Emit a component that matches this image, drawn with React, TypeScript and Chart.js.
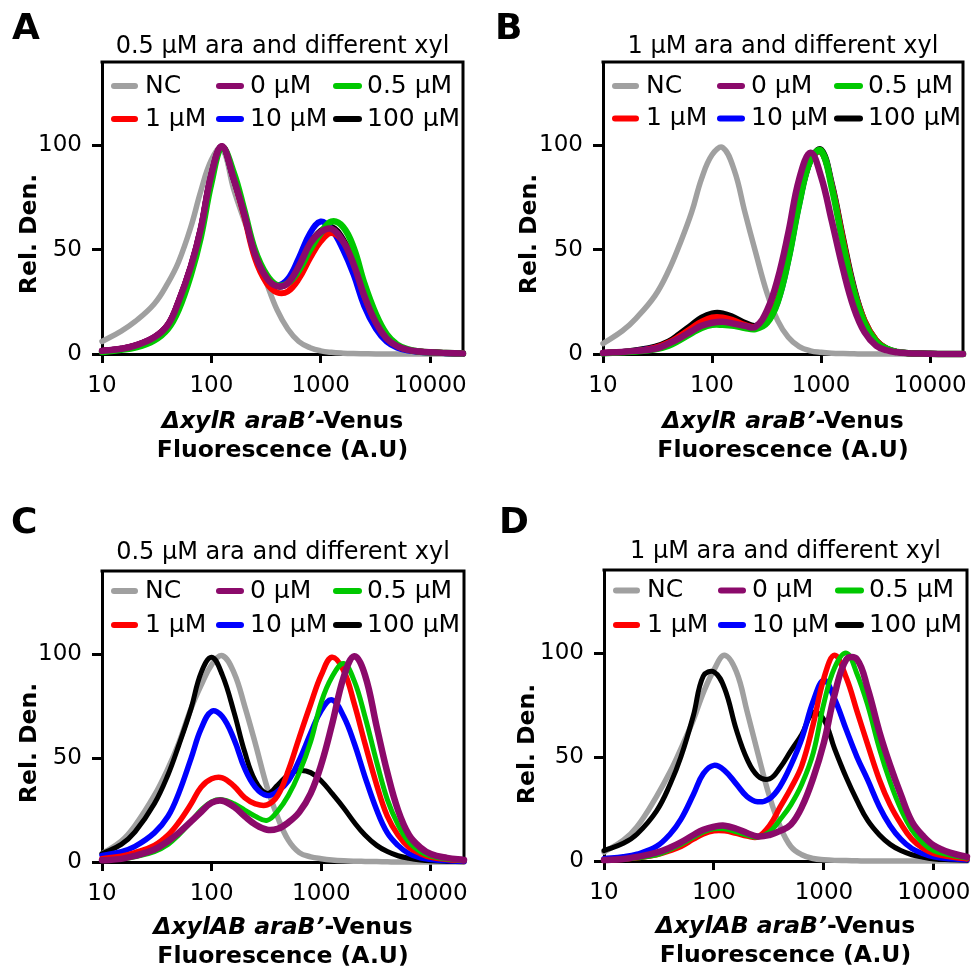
import React, { useEffect, useRef } from "react";
import { Chart, registerables } from "chart.js";

Chart.register(...registerables);

// ---------- data ----------
const xValues = [10, 15, 20, 30, 40, 50, 65, 80, 100, 125, 160, 200, 250, 320, 400, 500, 630, 800, 1000, 1250, 1600, 2000, 2500, 3200, 4000, 5000, 6300, 8000, 10000, 14000, 20000];
const xTickValues = [10, 100, 1000, 10000];
const yTickValues = [0, 50, 100];
const seriesLabels = ["NC", "0 µM", "0.5 µM", "1 µM", "10 µM", "100 µM"];
const panelLetters = ["A", "B", "C", "D"];
const panelTitles = [
  "0.5 µM ara and different xyl",
  "1 µM ara and different xyl",
  "0.5 µM ara and different xyl",
  "1 µM ara and different xyl",
];
const xTitleItalic = ["ΔxylR araB’", "ΔxylR araB’", "ΔxylAB araB’", "ΔxylAB araB’"];
const xTitleRest = "-Venus";
const xTitleLine2 = "Fluorescence (A.U)";
const yTitle = "Rel. Den.";

// Panel A: ΔxylR, 0.5 µM ara
const aNC = [6, 11, 15.5, 24, 34, 44, 61, 78, 93, 99, 79, 64, 50, 34, 21, 12, 6, 3, 1.5, 0.8, 0.4, 0.2, 0.1, 0, 0, 0, 0, 0, 0, 0, 0];
const a0 = [1.5, 2.5, 4, 8, 14, 25, 42, 60, 86, 99.6, 84, 67, 48, 36.5, 32.5, 34, 42, 53, 58.5, 60, 54, 43, 28, 15, 7.5, 3.8, 2, 1.2, 0.8, 0.5, 0.3];
const a05 = [1, 2, 3, 6.5, 12, 21, 38, 56, 82, 99, 87, 69, 50, 38, 33, 34, 40, 50, 58, 63.5, 61, 51, 34, 19, 9.5, 4.5, 2.2, 1.2, 0.8, 0.5, 0.3];
const a1 = [1.5, 2.5, 4, 8, 14, 25, 42, 60, 86, 99.5, 84, 66, 46, 34, 29.5, 30, 36, 46, 54, 58, 54, 44, 28, 15, 7.5, 3.8, 2, 1.2, 0.8, 0.5, 0.3];
const a10 = [1.5, 2.5, 4, 8, 14, 25, 42, 60, 86, 99.5, 84, 67, 48, 37, 33, 36, 46, 58, 63.5, 60, 50, 38, 23, 12, 6, 3, 1.6, 1, 0.7, 0.4, 0.2];
const a100 = [1.5, 2.5, 4, 8, 14, 25, 42, 60, 86, 99.5, 84, 67, 48, 37, 32.5, 34, 42, 53, 59, 61, 55, 44, 28, 15, 7.5, 3.8, 2, 1.2, 0.8, 0.5, 0.3];

// Panel B: ΔxylR, 1 µM ara
const bNC = [5, 11, 17, 28, 40, 52, 68, 84, 95.5, 99, 88, 68, 49, 29, 16, 8, 3.5, 1.5, 0.8, 0.4, 0.2, 0.1, 0, 0, 0, 0, 0, 0, 0, 0, 0];
const b0 = [0.5, 1, 1.5, 2.5, 5, 7.5, 11, 13.5, 15, 15.5, 14.5, 13.5, 13, 21, 36, 58, 84, 96.5, 85, 64, 40, 22, 10.5, 4, 1.8, 0.8, 0.4, 0.2, 0.1, 0, 0];
const b05 = [0.3, 0.8, 1.2, 2.2, 4, 6.5, 10, 12.5, 14, 14, 13.5, 12.5, 12, 15, 25, 45, 72, 93, 97.5, 80, 52, 30, 15, 6, 2.5, 1, 0.4, 0.2, 0.1, 0, 0];
const b1 = [0.5, 1, 1.5, 3, 5.5, 8.5, 12.5, 15.5, 17.5, 17.5, 16, 14, 13, 16, 26, 46, 73, 93, 97, 81, 54, 31, 16, 6.5, 2.6, 1, 0.4, 0.2, 0.1, 0, 0];
const b10 = [0.5, 1, 1.5, 3, 5, 8, 12, 15, 16.5, 16.5, 15, 13.5, 12.5, 15.5, 25, 45, 72, 93, 97, 81, 53, 31, 15.5, 6, 2.5, 1, 0.4, 0.2, 0.1, 0, 0];
const b100 = [0.5, 1, 1.8, 3.5, 6, 9.5, 14, 17.5, 19.5, 19.5, 17.5, 15, 13.5, 16, 26, 46, 73, 93, 98, 82, 55, 32, 16, 6.5, 2.6, 1, 0.4, 0.2, 0.1, 0, 0];

// Panel C: ΔxylAB, 0.5 µM ara
const cNC = [4, 10, 17.5, 32, 45, 57, 74, 85, 95, 99.3, 91, 75, 57, 36, 21.5, 10.5, 4.5, 2.5, 1.6, 1, 0.6, 0.4, 0.3, 0.2, 0.1, 0, 0, 0, 0, 0, 0];
const c0 = [0.8, 1.5, 3, 6, 10, 14, 19.5, 24, 28.5, 29.5, 26.5, 22, 18, 15.5, 16, 19, 24, 33, 47, 66, 89, 99, 90, 65, 43, 25, 13, 7, 3.8, 2, 1];
const c05 = [0.8, 1.5, 2.5, 5, 8.5, 13, 19.5, 25, 29, 30, 28, 25, 22, 20, 24.5, 32, 43, 58, 77, 89, 95.5, 87, 70, 48, 30, 18, 9.5, 5, 2.8, 1.4, 0.7];
const c1 = [1.6, 2.8, 4.5, 8, 13, 19, 28, 36, 40, 40.5, 36.5, 31, 28, 27.5, 32, 44, 60, 76, 90, 98.5, 92, 76, 57, 37, 22, 13, 7, 4, 2.2, 1.2, 0.6];
const c10 = [3.2, 5, 7.5, 14, 22, 33, 50, 64, 72.5, 70, 59, 45, 36, 32, 34, 39, 49, 62, 73, 78, 70, 57, 41, 25, 14, 8, 4, 2, 1.2, 0.6, 0.3];
const c100 = [4, 8.5, 14.5, 28, 42, 56, 74, 91, 98.5, 90, 72, 53, 39, 33, 37, 42, 44, 43, 39, 33, 26, 19, 13, 8, 5, 3, 1.8, 1, 0.6, 0.3, 0.1];

// Panel D: ΔxylAB, 1 µM ara
const dNC = [4.3, 10, 16.5, 31, 43, 54, 68, 81, 92, 99, 91, 72, 52, 31, 16.5, 7, 3, 1.2, 0.6, 0.3, 0.2, 0.1, 0, 0, 0, 0, 0, 0, 0, 0, 0];
const d0 = [0.5, 1, 2, 4, 6.5, 9, 12.5, 15, 16.5, 17, 15.5, 13.5, 11.8, 12.5, 14.5, 17.5, 26, 40, 57, 80, 97, 97, 83, 62, 46, 32, 19, 12, 7.5, 4, 2];
const d05 = [0.3, 0.8, 1.5, 3, 5.5, 8, 11.5, 14, 15.5, 15.5, 14, 12.5, 11.5, 14, 20, 27, 37, 52, 76, 93, 100, 90, 75, 54, 38, 25, 15, 8.5, 5, 2.8, 1.4];
const d1 = [0.3, 0.8, 1.5, 3, 5, 7, 10.5, 13, 14.5, 14.5, 13.3, 12, 11.5, 17, 26, 35, 46, 66, 88, 99, 88, 72, 56, 39, 27, 18, 10.5, 6, 3.6, 2, 1];
const d10 = [1.1, 2, 3.3, 7, 13, 20, 32, 42, 46, 43.5, 37, 31, 28.5, 30, 36, 46, 59, 77, 87, 78, 63, 50, 39, 26, 17, 10.5, 6, 3.5, 2, 1.1, 0.6];
const d100 = [5, 8.5, 13, 24, 37, 50, 70, 89, 91, 83, 63, 49, 41, 39.5, 45, 53, 61, 71.5, 68, 54, 40, 29, 19.5, 12.5, 8, 5, 3, 1.8, 1, 0.6, 0.3];

const panelSeries = [
  [aNC, a0, a05, a1, a10, a100],
  [bNC, b0, b05, b1, b10, b100],
  [cNC, c0, c05, c1, c10, c100],
  [dNC, d0, d05, d1, d10, d100],
];

// ---------- styles / layout ----------
const seriesColors = ["#a0a0a0", "#8b0a6b", "#00c800", "#ff0000", "#0000ff", "#000000"];
// lower order = drawn on top (purple on top, grey at the bottom)
const seriesOrder = [5, 0, 1, 2, 3, 4];
const widthsTop = [5.5, 6.5, 6.5, 6, 6, 6];
const widthsBottom = [5.5, 6.5, 5, 5.5, 5.5, 5];
const FONT = "'DejaVu Sans'";

const layouts = [
  { x: 0, y: 0, w: 486, h: 486, padTop: 62, padRight: 23, yW: 102, xH: 132, letterX: 12, letterY: 39, titleDy: -9.5, legendRows: [24, 57], xTitleDy: [74, 103], yTitleDx: -66, yTitleDy: 172, widths: widthsTop },
  { x: 486, y: 0, w: 487, h: 486, padTop: 62, padRight: 10, yW: 117, xH: 132, letterX: 9, letterY: 39, titleDy: -9.5, legendRows: [24, 56.5], xTitleDy: [74, 103], yTitleDx: -67, yTitleDy: 172, widths: widthsTop },
  { x: 0, y: 486, w: 486, h: 486, padTop: 85, padRight: 22, yW: 102, xH: 110, letterX: 11, letterY: 47, titleDy: -12.5, legendRows: [20, 54], xTitleDy: [71.5, 100.5], yTitleDx: -66, yTitleDy: 172, widths: widthsBottom },
  { x: 486, y: 486, w: 487, h: 486, padTop: 84, padRight: 6, yW: 118, xH: 111, letterX: 13, letterY: 47, titleDy: -11.7, legendRows: [20.5, 55], xTitleDy: [72, 101], yTitleDx: -70, yTitleDy: 174, widths: widthsBottom },
];

const legendCols = [
  { s: 12, e: 33, t: 43 },
  { s: 117, e: 139, t: 148 },
  { s: 234, e: 257, t: 265 },
];

function decorPlugin(idx: number) {
  const L = layouts[idx];
  return {
    id: "decor" + idx,
    beforeDatasetsDraw(chart: any) {
      const { ctx, chartArea: a } = chart;
      ctx.save();
      ctx.strokeStyle = "#000";
      ctx.lineWidth = 3;
      ctx.lineCap = "square";
      ctx.beginPath();
      ctx.moveTo(a.left, a.top);
      ctx.lineTo(a.right, a.top);
      ctx.lineTo(a.right, a.bottom);
      ctx.stroke();
      ctx.restore();
    },
    afterDraw(chart: any) {
      const { ctx, chartArea: a } = chart;
      const cx = (a.left + a.right) / 2;
      ctx.save();
      ctx.fillStyle = "#000";
      // panel letter
      ctx.font = `bold 36px ${FONT}`;
      ctx.textAlign = "left";
      ctx.textBaseline = "alphabetic";
      ctx.fillText(panelLetters[idx], L.letterX, L.letterY);
      // title
      ctx.font = `24px ${FONT}`;
      ctx.textAlign = "center";
      ctx.fillText(panelTitles[idx], cx, a.top + L.titleDy);
      // legend
      ctx.font = `25px ${FONT}`;
      ctx.textAlign = "left";
      ctx.textBaseline = "middle";
      seriesLabels.forEach((lab, i) => {
        const row = Math.floor(i / 3);
        const col = legendCols[i % 3];
        const y = a.top + L.legendRows[row];
        ctx.strokeStyle = seriesColors[i];
        ctx.lineWidth = 6;
        ctx.lineCap = "round";
        ctx.beginPath();
        ctx.moveTo(a.left + col.s, y);
        ctx.lineTo(a.left + col.e, y);
        ctx.stroke();
        ctx.fillStyle = "#000";
        ctx.fillText(lab, a.left + col.t, y);
      });
      // x title
      ctx.textBaseline = "alphabetic";
      const fItal = `italic bold 23.5px ${FONT}`;
      const fBold = `bold 23.5px ${FONT}`;
      ctx.font = fItal;
      const w1 = ctx.measureText(xTitleItalic[idx]).width;
      ctx.font = fBold;
      const w2 = ctx.measureText(xTitleRest).width;
      const sx = cx - (w1 + w2) / 2;
      ctx.textAlign = "left";
      ctx.font = fItal;
      ctx.fillText(xTitleItalic[idx], sx, a.bottom + L.xTitleDy[0]);
      ctx.font = fBold;
      ctx.fillText(xTitleRest, sx + w1, a.bottom + L.xTitleDy[0]);
      ctx.textAlign = "center";
      ctx.fillText(xTitleLine2, cx, a.bottom + L.xTitleDy[1]);
      // y title
      ctx.translate(a.left + L.yTitleDx, a.top + L.yTitleDy);
      ctx.rotate(-Math.PI / 2);
      ctx.font = fBold;
      ctx.textAlign = "center";
      ctx.textBaseline = "alphabetic";
      ctx.fillText(yTitle, 0, 0);
      ctx.restore();
    },
  };
}

function makeConfig(idx: number): any {
  const L = layouts[idx];
  const tickFont = { family: FONT, size: 23 };
  return {
    type: "line",
    data: {
      datasets: panelSeries[idx].map((vals, i) => ({
        label: seriesLabels[i],
        data: xValues.map((x, j) => ({ x, y: vals[j] })),
        borderColor: seriesColors[i],
        backgroundColor: seriesColors[i],
        borderWidth: L.widths[i],
        pointRadius: 0,
        tension: 0.4,
        borderCapStyle: "round",
        borderJoinStyle: "round",
        fill: false,
        order: seriesOrder[i],
        clip: false,
      })),
    },
    options: {
      responsive: false,
      animation: false,
      devicePixelRatio: 1,
      events: [],
      layout: { padding: { top: L.padTop, right: L.padRight, bottom: 0, left: 0 } },
      plugins: { legend: { display: false }, tooltip: { enabled: false }, title: { display: false } },
      scales: {
        x: {
          type: "logarithmic",
          min: 10,
          max: 20000,
          afterBuildTicks: (s: any) => {
            s.ticks = xTickValues.map((v) => ({ value: v }));
          },
          afterFit: (s: any) => {
            s.height = L.xH;
            s.paddingLeft = 0;
            s.paddingRight = 0;
          },
          ticks: {
            callback: (v: any) => String(v),
            font: tickFont,
            color: "#000",
            padding: 9,
            maxRotation: 0,
            minRotation: 0,
            autoSkip: false,
          },
          grid: { display: true, drawOnChartArea: false, drawTicks: true, tickLength: 9, tickWidth: 3, tickColor: "#000" },
          border: { display: true, color: "#000", width: 3 },
        },
        y: {
          type: "linear",
          min: 0,
          max: 140,
          afterBuildTicks: (s: any) => {
            s.ticks = yTickValues.map((v) => ({ value: v }));
          },
          afterFit: (s: any) => {
            s.width = L.yW;
            s.paddingTop = 0;
            s.paddingBottom = 0;
          },
          ticks: { callback: (v: any) => String(v), font: tickFont, color: "#000", padding: 10 },
          grid: { display: true, drawOnChartArea: false, drawTicks: true, tickLength: 10, tickWidth: 3, tickColor: "#000" },
          border: { display: true, color: "#000", width: 3 },
        },
      },
    },
    plugins: [decorPlugin(idx)],
  };
}

function Panel({ idx }: { idx: number }) {
  const ref = useRef<HTMLCanvasElement | null>(null);
  const L = layouts[idx];
  useEffect(() => {
    if (!ref.current) return;
    const chart = new Chart(ref.current, makeConfig(idx));
    return () => chart.destroy();
  }, [idx]);
  return (
    <canvas
      ref={ref}
      width={L.w}
      height={L.h}
      style={{ position: "absolute", left: L.x, top: L.y, width: L.w, height: L.h, display: "block" }}
    />
  );
}

export default function App() {
  return (
    <div style={{ position: "absolute", left: 0, top: 0, width: 973, height: 972, background: "#fff", overflow: "hidden" }}>
      {[0, 1, 2, 3].map((i) => (
        <Panel key={i} idx={i} />
      ))}
    </div>
  );
}
